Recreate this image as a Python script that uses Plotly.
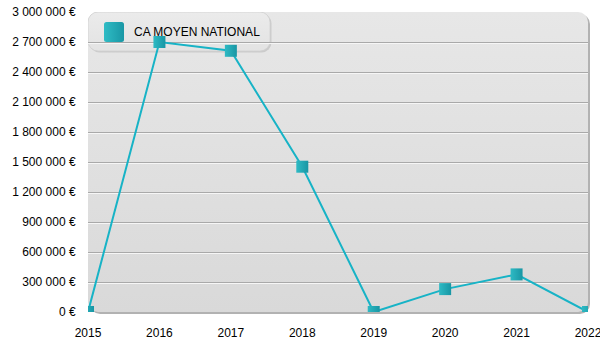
import base64
import plotly.graph_objects as go

years = [2015, 2016, 2017, 2018, 2019, 2020, 2021, 2022]
ca_moyen = [0, 2700000, 2612000, 1453000, 0, 229000, 376000, 0]
series_name = "CA MOYEN NATIONAL"

y_tick_vals = [0, 300000, 600000, 900000, 1200000, 1500000, 1800000, 2100000, 2400000, 2700000, 3000000]
y_tick_text = ["0 €", "300 000 €", "600 000 €", "900 000 €", "1 200 000 €", "1 500 000 €",
               "1 800 000 €", "2 100 000 €", "2 400 000 €", "2 700 000 €", "3 000 000 €"]
x_tick_vals = years
x_tick_text = [str(y) for y in years]

W, H = 600, 350
ML, MR, MT, MB = 88, 12, 12, 38
PW, PH = W - ML - MR, H - MT - MB

# background panel (plot area + legend box) as SVG
svg = f'''<svg xmlns="http://www.w3.org/2000/svg" width="{PW+4}" height="{PH+4}" viewBox="0 0 {PW+4} {PH+4}" preserveAspectRatio="none">
<defs>
<linearGradient id="g" x1="0" y1="0" x2="0" y2="1">
<stop offset="0" stop-color="#e7e7e7"/><stop offset="1" stop-color="#d9d9d9"/></linearGradient>
<linearGradient id="lg" x1="0" y1="0" x2="0" y2="1">
<stop offset="0" stop-color="#ebebeb"/><stop offset="1" stop-color="#e3e3e3"/></linearGradient>
<linearGradient id="sq" x1="0" y1="0" x2="1" y2="0">
<stop offset="0" stop-color="#2fbcc5"/><stop offset="1" stop-color="#1997a5"/></linearGradient>
</defs>
<rect x="2" y="2" width="{PW}" height="{PH}" rx="10" ry="10" fill="#b2b2b2"/>
<rect x="0" y="0" width="{PW}" height="{PH}" rx="10" ry="10" fill="url(#g)"/>
<rect x="1.5" y="1.5" width="182" height="39" rx="10" ry="10" fill="#c4c4c4" opacity="0.8"/>
<rect x="0" y="0" width="182" height="39" rx="10" ry="10" fill="url(#lg)" stroke="#d0d0d0" stroke-width="0.8"/>
<rect x="16" y="10" width="20" height="20" rx="2.5" ry="2.5" fill="url(#sq)"/>
</svg>'''
src = "data:image/svg+xml;base64," + base64.b64encode(svg.encode()).decode()

fig = go.Figure()
fig.add_trace(go.Scatter(
    x=years, y=ca_moyen, mode="lines+markers", name=series_name,
    line=dict(color="#17b3c6", width=2),
    marker=dict(symbol="square", size=12, color="#2ebac4",
                gradient=dict(type="horizontal", color="#1896a4"),
                line=dict(width=0)),
    cliponaxis=True, showlegend=False, hoverinfo="x+y",
))

grid_vals = y_tick_vals[1:-1]
font = dict(family="Liberation Sans, Arial, sans-serif", size=12, color="#000000")

fig.update_layout(
    width=W, height=H,
    margin=dict(l=ML, r=MR, t=MT, b=MB),
    paper_bgcolor="white", plot_bgcolor="rgba(0,0,0,0)",
    font=font, showlegend=False,
    xaxis=dict(range=[2015, 2022], tickvals=x_tick_vals, ticktext=x_tick_text,
               showgrid=False, zeroline=False, showline=False, automargin=False,
               ticklabeloverflow="allow",
               ticks="outside", ticklen=10, tickcolor="rgba(0,0,0,0)", tickfont=font),
    yaxis=dict(range=[0, 3000000], tickvals=y_tick_vals, ticktext=y_tick_text,
               showgrid=False, zeroline=False, showline=False, automargin=False,
               ticklabeloverflow="allow",
               ticks="outside", ticklen=9, tickcolor="rgba(0,0,0,0)", tickfont=font),
    yaxis2=dict(range=[0, 3000000], overlaying="y", tickvals=grid_vals, showticklabels=False,
                automargin=False,
                showgrid=True, gridcolor="#a9a9a9", gridwidth=1, zeroline=False, showline=False),
    yaxis3=dict(range=[10000, 3010000], overlaying="y", tickvals=grid_vals, showticklabels=False,
                automargin=False,
                showgrid=True, gridcolor="#f6f6f6", gridwidth=1, zeroline=False, showline=False),
    images=[dict(source=src, xref="paper", yref="paper", x=0, y=1,
                 sizex=(PW + 4) / PW, sizey=(PH + 4) / PH, xanchor="left", yanchor="top",
                 sizing="stretch", layer="below")],
    annotations=[dict(text=series_name, xref="paper", yref="paper",
                      x=(132 - ML) / PW, y=1 - (32 - MT) / PH, xanchor="left", yanchor="middle",
                      showarrow=False, font=font)],
)
# dummy traces to activate the overlay grid axes
fig.add_trace(go.Scatter(x=[None], y=[None], yaxis="y2", showlegend=False, hoverinfo="skip"))
fig.add_trace(go.Scatter(x=[None], y=[None], yaxis="y3", showlegend=False, hoverinfo="skip"))

fig.write_html("out.html")
